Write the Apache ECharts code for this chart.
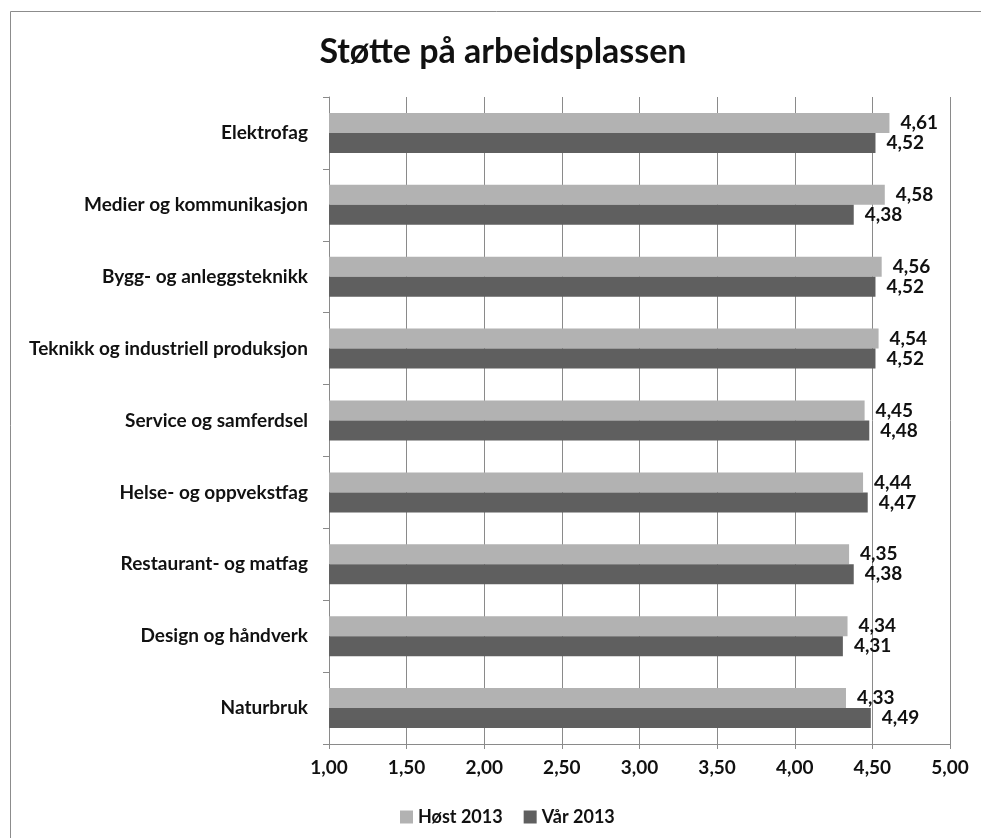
<!DOCTYPE html>
<html>
<head>
<meta charset="utf-8">
<style>
  html, body { margin: 0; padding: 0; background: #ffffff; }
  #chart { width: 981px; height: 838px; }
</style>
<script src="https://cdn.jsdelivr.net/npm/echarts@6/dist/echarts.min.js"></script>
</head>
<body>
<div id="chart"></div>
<script>
// Study programmes, listed top to bottom
const categories = [
  'Elektrofag',
  'Medier og kommunikasjon',
  'Bygg- og anleggsteknikk',
  'Teknikk og industriell produksjon',
  'Service og samferdsel',
  'Helse- og oppvekstfag',
  'Restaurant- og matfag',
  'Design og håndverk',
  'Naturbruk'
];

// Average score per programme
const host2013 = [4.61, 4.58, 4.56, 4.54, 4.45, 4.44, 4.35, 4.34, 4.33];
const var2013  = [4.52, 4.38, 4.52, 4.52, 4.48, 4.47, 4.38, 4.31, 4.49];

const seriesNames = ['Høst 2013', 'Vår 2013'];
const axisMin = 1;
const axisMax = 5;
const axisStep = 0.5;

const FONT = 'Lato';
const fmt = v => v.toFixed(2).replace('.', ',');

const chart = echarts.init(document.getElementById('chart'), null, { renderer: 'canvas' });

const valueLabel = {
  show: true,
  position: 'right',
  distance: 11,
  fontFamily: FONT,
  fontWeight: 'bold',
  fontSize: 19,
  color: '#111',
  formatter: p => fmt(p.value)
};

chart.setOption({
  backgroundColor: '#ffffff',
  animation: false,
  title: {
    text: 'Støtte på arbeidsplassen',
    left: 498,
    textAlign: 'center',
    top: 30,
    textStyle: { fontFamily: FONT, fontWeight: 'bold', fontSize: 34, color: '#111' }
  },
  graphic: [{
    type: 'rect',
    shape: { x: 10.5, y: 11.5, width: 1000, height: 900 },
    style: { fill: 'none', stroke: '#8c8c8c', lineWidth: 1 },
    silent: true,
    z: -1
  }],
  legend: {
    data: seriesNames,
    left: 395,
    top: 803,
    itemWidth: 13,
    itemHeight: 13,
    itemGap: 21,
    icon: 'rect',
    textStyle: { fontFamily: FONT, fontWeight: 'bold', fontSize: 18, color: '#111' }
  },
  grid: { left: 329, right: 31, top: 97, bottom: 94, containLabel: false },
  xAxis: {
    type: 'value',
    min: axisMin,
    max: axisMax,
    interval: axisStep,
    axisLine: { show: true, lineStyle: { color: '#8a8a8a', width: 1 } },
    axisTick: { show: true, length: 5, lineStyle: { color: '#8a8a8a' } },
    splitLine: { show: true, lineStyle: { color: '#8a8a8a', width: 1 } },
    axisLabel: {
      margin: 14,
      fontFamily: FONT, fontWeight: 'bold', fontSize: 19, color: '#111',
      formatter: v => fmt(v)
    }
  },
  yAxis: {
    type: 'category',
    data: categories,
    inverse: true,
    axisLine: { show: true, lineStyle: { color: '#8a8a8a', width: 1 } },
    axisTick: { show: true, length: 6, lineStyle: { color: '#8a8a8a' } },
    axisLabel: {
      margin: 21,
      fontFamily: FONT, fontWeight: 'bold', fontSize: 19, color: '#111'
    }
  },
  series: [
    {
      name: seriesNames[0],
      type: 'bar',
      data: host2013,
      barWidth: 20,
      barGap: '0%',
      itemStyle: { color: '#b2b2b2' },
      label: valueLabel
    },
    {
      name: seriesNames[1],
      type: 'bar',
      data: var2013,
      barWidth: 20,
      barGap: '0%',
      itemStyle: { color: '#5f5f5f' },
      label: valueLabel
    }
  ]
});
</script>
</body>
</html>
